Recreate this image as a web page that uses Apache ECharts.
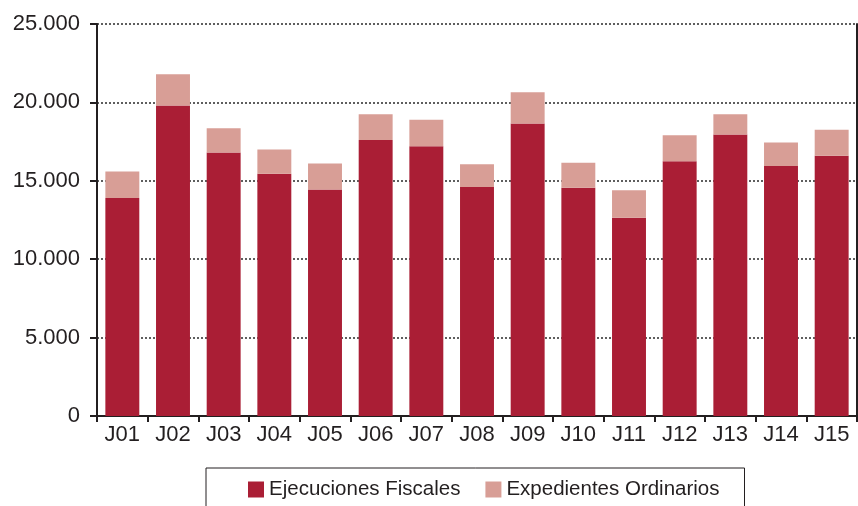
<!DOCTYPE html>
<html>
<head>
<meta charset="utf-8">
<script src="https://cdn.jsdelivr.net/npm/echarts@6/dist/echarts.min.js"></script>
<style>html,body{margin:0;padding:0;background:#fff}#c{width:858px;height:506px}</style>
</head>
<body>
<div id="c"></div>
<script>
const categories = ['J01','J02','J03','J04','J05','J06','J07','J08','J09','J10','J11','J12','J13','J14','J15'];
const ejecucionesFiscales = [13900, 19800, 16800, 15450, 14450, 17600, 17200, 14600, 18650, 14550, 12650, 16250, 17950, 15950, 16600];
const expedientesOrdinarios = [1700, 2000, 1550, 1550, 1650, 1650, 1700, 1450, 2000, 1600, 1750, 1650, 1300, 1500, 1650];
const yTicks = [0, 5000, 10000, 15000, 20000, 25000];

const FONT = '"Liberation Sans", Arial, sans-serif';
const TXT = '#231f20';
function fmt(v){ return String(v).replace(/\B(?=(\d{3})+(?!\d))/g, '.'); }

const chart = echarts.init(document.getElementById('c'), null, {renderer:'canvas'});
chart.setOption({
  animation: false,
  backgroundColor: '#fff',
  grid: {left: 97, right: 1, top: 24, bottom: 90, containLabel: false},
  legend: {
    data: ['Ejecuciones Fiscales', 'Expedientes Ordinarios'],
    left: 206, top: 468,
    orient: 'horizontal',
    itemWidth: 16, itemHeight: 16, itemGap: 25,
    borderColor: TXT, borderWidth: 1,
    padding: [11, 25, 20, 42],
    icon: 'rect',
    textStyle: {fontFamily: FONT, fontSize: 20.5, color: TXT}
  },
  xAxis: {
    type: 'category', data: categories,
    axisLine: {show: true, lineStyle: {color: TXT, width: 2}},
    axisTick: {show: true, alignWithLabel: false, length: 6, lineStyle: {color: TXT, width: 2}},
    axisLabel: {fontFamily: FONT, fontSize: 22, color: TXT, margin: 8}
  },
  yAxis: [{
    type: 'value', min: yTicks[0], max: yTicks[yTicks.length-1], interval: 5000,
    axisLine: {show: true, lineStyle: {color: TXT, width: 2}},
    axisTick: {show: true, length: 7, lineStyle: {color: TXT, width: 2}},
    axisLabel: {fontFamily: FONT, fontSize: 22, color: TXT, margin: 17, formatter: v => fmt(v)},
    splitLine: {show: true, lineStyle: {color: '#2a2a2a', width: 1.5, type: [2, 2]}}
  }, {
    type: 'value', min: 0, max: 25000, interval: 5000, position: 'right',
    axisLine: {show: true, lineStyle: {color: TXT, width: 2}},
    axisTick: {show: false}, axisLabel: {show: false}, splitLine: {show: false}
  }],
  series: [{
    name: 'Ejecuciones Fiscales', type: 'bar', stack: 'tot', data: ejecucionesFiscales,
    barWidth: '67%', itemStyle: {color: '#aa1e35'}
  }, {
    name: 'Expedientes Ordinarios', type: 'bar', stack: 'tot', data: expedientesOrdinarios,
    barWidth: '67%', itemStyle: {color: '#d89e96'}
  }]
});
</script>
</body>
</html>
